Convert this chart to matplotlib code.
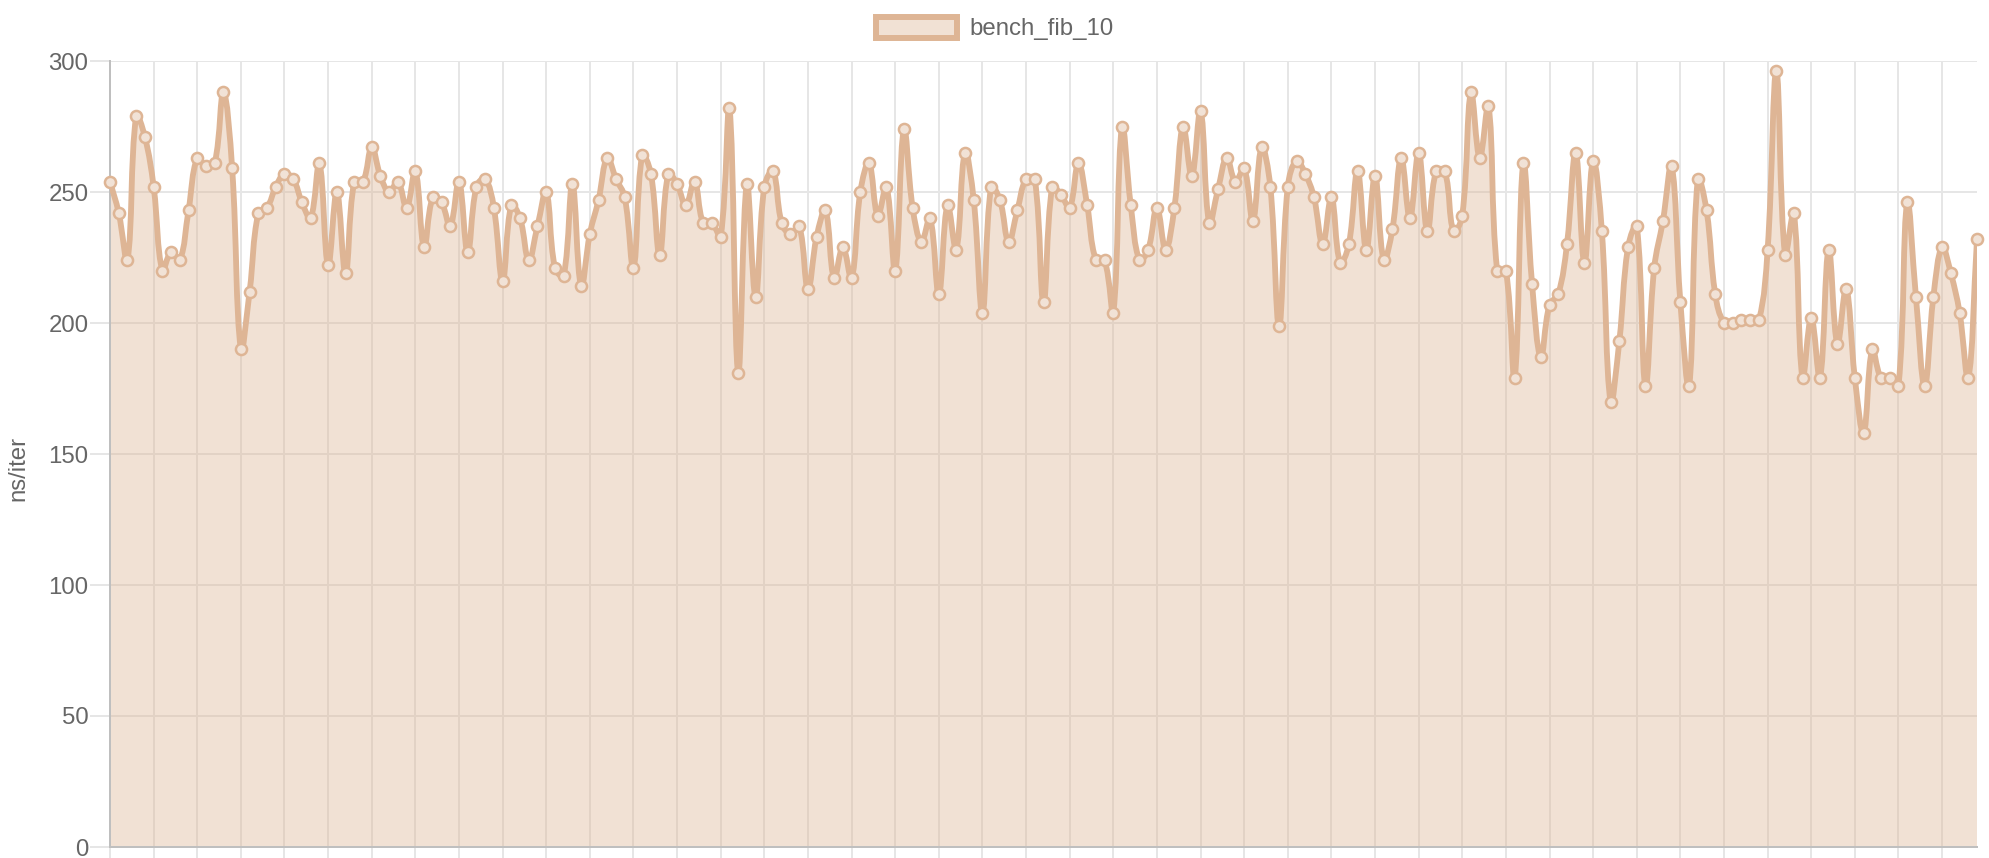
import numpy as np
import matplotlib
matplotlib.use("Agg")
import matplotlib.pyplot as plt
from matplotlib.path import Path
from matplotlib.patches import PathPatch, Patch

# datos (ns/iter por corrida)
serie = "bench_fib_10"
eje_y = "ns/iter"
valores = [
    254, 242, 224, 279, 271, 252, 220, 227, 224, 243, 263, 260, 261, 288, 259, 190, 212, 242, 244, 252,
    257, 255, 246, 240, 261, 222, 250, 219,
    254, 254, 267, 256, 250, 254, 244, 258, 229, 248, 246, 237, 254, 227, 252, 255, 244, 216, 245, 240,
    224, 237, 250, 221, 218, 253, 214, 234,
    247, 263, 255, 248, 221, 264, 257, 226, 257, 253, 245, 254, 238, 238, 233, 282, 181, 253, 210, 252,
    258, 238, 234, 237, 213, 233, 243,
    217, 229, 217, 250, 261, 241, 252, 220, 274, 244, 231, 240, 211, 245, 228, 265, 247, 204, 252, 247,
    231, 243, 255, 255, 208, 252, 249, 244,
    261, 245, 224, 224, 204, 275, 245, 224, 228, 244, 228, 244, 275, 256, 281, 238, 251, 263, 254, 259,
    239, 267, 252, 199, 252, 262, 257,
    248, 230, 248, 223, 230, 258, 228, 256, 224, 236, 263, 240, 265, 235, 258, 258, 235, 241, 288, 263,
    283, 220, 220, 179, 261, 215, 187, 207,
    211, 230, 265, 223, 262, 235, 170, 193, 229, 237, 176, 221, 239, 260, 208, 176, 255, 243, 211, 200,
    200, 201, 201, 201, 228, 296, 226,
    242, 179, 202, 179, 228, 192, 213, 179, 158, 190, 179, 179, 176, 246, 210, 176, 210, 229, 219, 204,
    179, 232,
]
y_ticks = [0, 50, 100, 150, 200, 250, 300]

linea = "#deb595"
relleno = (222 / 255, 181 / 255, 149 / 255, 0.4)
marca = "#f1e2d6"
gris_txt = "#666666"
grilla = "#e6e6e6"
eje = "#bfbfbf"
fs = 17.3

plt.rcParams['font.family'] = ['Liberation Sans', 'DejaVu Sans']

W, H = 1989, 858
fig = plt.figure(figsize=(W / 100, H / 100), dpi=100)
ax = fig.add_axes([110 / W, 11 / H, 1867 / W, 786 / H])

x = np.arange(len(valores))
y = np.array(valores, dtype=float)
ax.set_xlim(0, len(valores) - 1)
ax.set_ylim(0, 300)


def curva_bezier(x, y, t=0.4):
    # puntos de control como en chart.js (splineCurve), calculados en pixeles
    pts = ax.transData.transform(np.column_stack([x, y]))
    n = len(pts)
    cp_a = np.zeros_like(pts)
    cp_b = np.zeros_like(pts)
    for i in range(n):
        cur = pts[i]
        prev = pts[i - 1] if i > 0 else cur
        nxt = pts[i + 1] if i < n - 1 else cur
        d01 = np.hypot(*(cur - prev))
        d12 = np.hypot(*(nxt - cur))
        tot = d01 + d12
        s01 = d01 / tot if tot else 0
        s12 = d12 / tot if tot else 0
        cp_a[i] = cur - t * s01 * (nxt - prev)
        cp_b[i] = cur + t * s12 * (nxt - prev)
    inv = ax.transData.inverted()
    verts = [pts[0]]
    codes = [Path.MOVETO]
    for i in range(n - 1):
        verts += [cp_b[i], cp_a[i + 1], pts[i + 1]]
        codes += [Path.CURVE4] * 3
    verts = inv.transform(np.array(verts))
    return verts, codes


verts, codes = curva_bezier(x, y)

# relleno bajo la curva
v_fill = np.vstack([verts, [[x[-1], 0], [x[0], 0], [x[0], 0]]])
c_fill = codes + [Path.LINETO, Path.LINETO, Path.CLOSEPOLY]
ax.add_patch(PathPatch(Path(v_fill, c_fill), facecolor=relleno, edgecolor='none', zorder=2))
ax.add_patch(PathPatch(Path(verts, codes), facecolor='none', edgecolor=linea, lw=4.2,
                       joinstyle='round', capstyle='round', zorder=3))
ax.plot(x, y, 'o', ms=8.0, mfc=marca, mec=linea, mew=1.8, zorder=4, clip_on=False)

# grilla y ejes
ax.set_yticks(y_ticks)
ax.set_yticklabels([str(v) for v in y_ticks])
ax.set_xticks(x[::5])
ax.set_xticklabels([])
ax.grid(True, color=grilla, lw=1.44, alpha=1.0, zorder=0)
ax.set_axisbelow(True)
ax.tick_params(axis='y', length=14.4, width=1.44, color=grilla, pad=1, labelsize=fs, labelcolor=gris_txt)
ax.tick_params(axis='x', length=14.4, width=1.44, color=grilla)
for s in ['top', 'right']:
    ax.spines[s].set_visible(False)
for s in ['left', 'bottom']:
    ax.spines[s].set_color(eje)
    ax.spines[s].set_linewidth(1.44)

fig.text(18 / W, 1 - 468 / H, eje_y, rotation=90, ha='center', va='center',
         fontsize=fs, color=gris_txt)

fig.legend(handles=[Patch(facecolor=relleno, edgecolor=linea, linewidth=4.3, label=serie)],
           loc='center', bbox_to_anchor=(0.5, 1 - 28.5 / H), frameon=False,
           fontsize=fs, handlelength=3.4, handleheight=1.0, handletextpad=0.5,
           labelcolor=gris_txt, borderpad=0)

fig.savefig("out.png", dpi=100)
